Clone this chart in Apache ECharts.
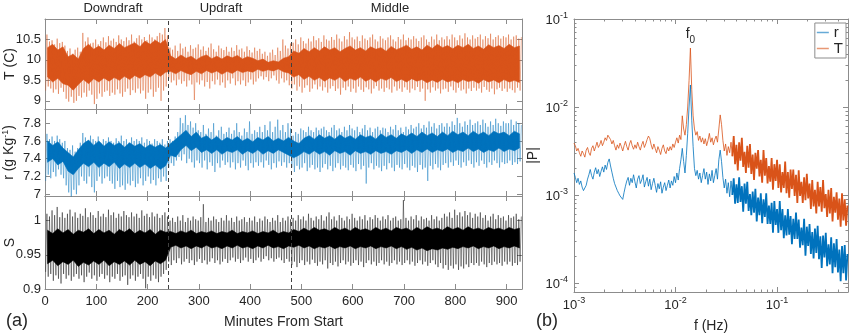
<!DOCTYPE html>
<html>
<head>
<meta charset="utf-8">
<script src="https://cdn.jsdelivr.net/npm/echarts@6/dist/echarts.min.js"></script>
<style>
  html, body { margin: 0; padding: 0; background: #ffffff; }
  #chart { width: 850px; height: 335px; }
</style>
</head>
<body>
<div id="chart"></div>
<script>
// ---------------------------------------------------------------
// Time series: envelope of each 5-minute bin (low / high) and the
// dense core of each 10-minute bin, for T, r and S.
// ---------------------------------------------------------------
const binMinutes = 5;
const coreMinutes = 10;
const sectionNames = ['Downdraft', 'Updraft', 'Middle'];
const sectionBounds = [240, 480];
const minuteTicks = [0, 100, 200, 300, 400, 500, 600, 700, 800, 900];
const tempTicks = [9, 9.5, 10, 10.5];
const mixTicks = [7, 7.2, 7.4, 7.6, 7.8];
const satTicks = [0.9, 0.95, 1];

// Temperature T (C)
const tempHi = [
  10.62, 10.45, 10.48, 10.38, 10.52, 10.41, 10.44, 10.35, 10.22, 10.28, 10.15, 10.25,
  10.30, 10.20, 10.66, 10.45, 10.55, 10.40, 10.42, 10.50, 10.38, 10.46, 10.55, 10.43,
  10.58, 10.47, 10.52, 10.44, 10.60, 10.50, 10.46, 10.55, 10.48, 10.62, 10.45, 10.53,
  10.60, 10.50, 10.56, 10.48, 10.62, 10.55, 10.50, 10.58, 10.66, 10.62, 10.78, 10.60,
  10.30, 10.25, 10.35, 10.22, 10.40, 10.28, 10.32, 10.20, 10.36, 10.27, 10.30, 10.38,
  10.25, 10.33, 10.22, 10.30, 10.40, 10.26, 10.20, 10.35, 10.28, 10.24, 10.32, 10.20,
  10.30, 10.22, 10.36, 10.25, 10.28, 10.20, 10.33, 10.24, 10.18, 10.30, 10.22, 10.27,
  10.15, 10.20, 10.10, 10.18, 10.25, 10.12, 10.30, 10.22, 10.50, 10.35, 10.28, 10.40,
  10.42, 10.50, 10.38, 10.55, 10.46, 10.40, 10.52, 10.45, 10.58, 10.48, 10.53, 10.44,
  10.60, 10.50, 10.47, 10.56, 10.49, 10.62, 10.52, 10.45, 10.58, 10.50, 10.68, 10.55,
  10.50, 10.57, 10.46, 10.60, 10.52, 10.48, 10.55, 10.62, 10.50, 10.45, 10.58, 10.52,
  10.48, 10.55, 10.60, 10.50, 10.45, 10.56, 10.50, 10.62, 10.48, 10.54, 10.50, 10.58,
  10.52, 10.46, 10.55, 10.60, 10.50, 10.44, 10.57, 10.50, 10.62, 10.48, 10.55, 10.50,
  10.58, 10.50, 10.62, 10.55, 10.48, 10.60, 10.52, 10.65, 10.55, 10.50, 10.60, 10.52,
  10.56, 10.62, 10.50, 10.58, 10.53, 10.64, 10.50, 10.56, 10.60, 10.52, 10.58, 10.55,
  10.62, 10.50, 10.57, 10.60, 10.52, 10.56
];
const tempLo = [
  9.25, 9.35, 9.30, 9.20, 9.28, 9.17, 9.32, 9.22, 9.05, 8.98, 9.10, 8.95,
  9.00, 9.12, 9.08, 9.20, 9.10, 9.25, 9.15, 8.92, 9.05, 9.18, 9.10, 9.22,
  9.25, 9.12, 9.20, 9.15, 9.28, 9.18, 9.10, 9.22, 9.30, 9.14, 9.26, 9.20,
  9.30, 9.18, 9.25, 9.05, 9.20, 9.28, 9.10, 9.22, 9.32, 9.00, 9.25, 9.35,
  9.55, 9.45, 9.50, 9.38, 9.52, 9.42, 9.48, 9.35, 9.50, 9.40, 9.02, 9.45,
  9.40, 9.50, 9.35, 9.46, 9.30, 9.48, 9.40, 9.52, 9.38, 9.45, 9.32, 9.50,
  9.42, 9.55, 9.38, 9.48, 9.40, 9.50, 9.36, 9.45, 9.52, 9.40, 9.47, 9.55,
  9.60, 9.52, 9.58, 9.48, 9.55, 9.62, 9.50, 9.42, 9.55, 9.45, 9.50, 9.38,
  9.30, 9.40, 9.25, 9.35, 9.20, 9.32, 9.38, 9.22, 9.30, 9.40, 9.28, 9.35,
  9.25, 9.33, 9.20, 9.30, 9.36, 9.24, 9.30, 9.15, 9.32, 9.26, 9.35, 9.22,
  9.30, 9.20, 9.35, 9.27, 9.22, 9.33, 9.28, 9.18, 9.30, 9.36, 9.25, 9.30,
  9.22, 9.32, 9.28, 9.20, 9.35, 9.25, 9.30, 9.22, 9.33, 9.27, 9.20, 9.30,
  9.26, 9.34, 9.22, 9.30, 9.00, 9.28, 9.20, 9.33, 9.25, 9.30, 9.18, 9.28,
  9.30, 9.22, 9.35, 9.26, 9.20, 9.32, 9.25, 9.28, 9.18, 9.30, 9.24, 9.32,
  9.25, 9.30, 9.20, 9.34, 9.27, 9.22, 9.30, 9.16, 9.28, 9.32, 9.24, 9.30,
  9.22, 9.30, 9.26, 9.20, 9.32, 9.25
];
const tempCoreHi = [
  10.30, 10.38, 10.24, 10.32, 10.08, 10.14, 10.02, 10.28, 10.38, 10.26, 10.34, 10.24,
  10.36, 10.28, 10.40, 10.30, 10.36, 10.42, 10.32, 10.46, 10.38, 10.48, 10.40, 10.50,
  10.10, 10.02, 10.12, 10.04, 10.09, 10.00, 10.08, 10.12, 10.03, 10.09, 10.02, 10.10,
  10.05, 10.11, 10.02, 10.08, 10.04, 9.98, 10.02, 9.94, 9.98, 9.95, 10.04, 10.08,
  10.22, 10.16, 10.28, 10.20, 10.30, 10.22, 10.32, 10.24, 10.30, 10.20, 10.28, 10.34, 10.24, 10.30, 10.22,
  10.32, 10.26, 10.30, 10.21, 10.33, 10.25, 10.30, 10.36, 10.26, 10.32, 10.24, 10.36, 10.28, 10.38, 10.30,
  10.35, 10.27, 10.36, 10.30, 10.38, 10.28, 10.34, 10.26, 10.37, 10.30, 10.35, 10.28, 10.38, 10.30, 10.34
];
const tempCoreLo = [
  9.58, 9.46, 9.55, 9.42, 9.38, 9.26, 9.40, 9.52, 9.42, 9.54, 9.46, 9.56,
  9.48, 9.57, 9.50, 9.60, 9.52, 9.62, 9.55, 9.64, 9.58, 9.68, 9.60, 9.70,
  9.72, 9.66, 9.74, 9.68, 9.64, 9.72, 9.66, 9.74, 9.68, 9.73, 9.65, 9.72,
  9.67, 9.75, 9.69, 9.73, 9.70, 9.77, 9.72, 9.76, 9.73, 9.78, 9.71, 9.68,
  9.58, 9.64, 9.52, 9.60, 9.50, 9.57, 9.48, 9.56, 9.50, 9.58, 9.47, 9.55, 9.50, 9.58, 9.48,
  9.54, 9.46, 9.55, 9.50, 9.57, 9.47, 9.53, 9.46, 9.54, 9.48, 9.52, 9.44, 9.51, 9.45, 9.53,
  9.46, 9.50, 9.44, 9.52, 9.47, 9.50, 9.43, 9.52, 9.46, 9.51, 9.44, 9.52, 9.46, 9.50, 9.45
];

// Mixing ratio r (g/kg)
const mixHi = [
  7.68, 7.62, 7.65, 7.60, 7.66, 7.62, 7.58, 7.60, 7.52, 7.50, 7.55, 7.48,
  7.52, 7.58, 7.69, 7.64, 7.60, 7.66, 7.62, 7.60, 7.65, 7.58, 7.62, 7.60,
  7.64, 7.60, 7.58, 7.63, 7.60, 7.66, 7.60, 7.62, 7.58, 7.64, 7.60, 7.62,
  7.60, 7.64, 7.58, 7.62, 7.60, 7.57, 7.62, 7.60, 7.58, 7.62, 7.56, 7.60,
  7.62, 7.60, 7.65, 7.70, 7.86, 7.80, 7.89, 7.78, 7.82, 7.75, 7.80, 7.72,
  7.70, 7.78, 7.68, 7.74, 7.70, 7.80, 7.66, 7.72, 7.76, 7.68, 7.70, 7.75,
  7.68, 7.72, 7.80, 7.70, 7.66, 7.74, 7.70, 7.82, 7.68, 7.72, 7.70, 7.76,
  7.70, 7.78, 7.72, 7.82, 7.70, 7.76, 7.84, 7.72, 7.78, 7.70, 7.80, 7.74,
  7.66, 7.70, 7.68, 7.74, 7.72, 7.70, 7.76, 7.72, 7.70, 7.75, 7.72, 7.74,
  7.76, 7.72, 7.70, 7.75, 7.78, 7.72, 7.74, 7.70, 7.76, 7.72, 7.78, 7.74,
  7.72, 7.76, 7.70, 7.74, 7.78, 7.72, 7.75, 7.70, 7.74, 7.76, 7.72, 7.75,
  7.74, 7.70, 7.76, 7.73, 7.78, 7.72, 7.75, 7.70, 7.76, 7.73, 7.78, 7.74,
  7.76, 7.80, 7.74, 7.78, 7.75, 7.82, 7.76, 7.80, 7.74, 7.78, 7.80, 7.76,
  7.80, 7.76, 7.82, 7.78, 7.86, 7.80, 7.76, 7.82, 7.78, 7.84, 7.78, 7.80,
  7.82, 7.78, 7.84, 7.80, 7.76, 7.82, 7.78, 7.85, 7.80, 7.77, 7.82, 7.80,
  7.80, 7.84, 7.78, 7.82, 7.80, 7.78
];
const mixLo = [
  7.15, 7.22, 7.18, 7.25, 7.20, 7.28, 7.22, 7.18, 7.10, 7.02, 6.96, 7.05,
  7.00, 7.10, 7.20, 7.15, 7.12, 7.20, 7.08, 7.02, 7.15, 7.20, 7.12, 7.18,
  7.20, 7.15, 7.12, 7.06, 7.15, 7.08, 7.10, 7.05, 7.12, 7.10, 7.15, 7.08,
  7.12, 7.18, 7.10, 7.15, 7.20, 7.12, 7.16, 7.10, 7.18, 7.14, 7.20, 7.15,
  7.30, 7.35, 7.32, 7.38, 7.42, 7.38, 7.45, 7.35, 7.40, 7.36, 7.30, 7.38,
  7.35, 7.30, 7.38, 7.28, 7.36, 7.32, 7.25, 7.35, 7.30, 7.38, 7.33, 7.36,
  7.30, 7.36, 7.28, 7.35, 7.30, 7.38, 7.32, 7.27, 7.35, 7.30, 7.36, 7.32,
  7.36, 7.30, 7.38, 7.33, 7.28, 7.35, 7.30, 7.37, 7.32, 7.36, 7.30, 7.35,
  7.30, 7.25, 7.32, 7.28, 7.30, 7.35, 7.26, 7.30, 7.33, 7.28, 7.30, 7.25,
  7.30, 7.34, 7.28, 7.32, 7.26, 7.30, 7.35, 7.28, 7.32, 7.30, 7.27, 7.33,
  7.30, 7.26, 7.34, 7.28, 7.32, 7.12, 7.30, 7.35, 7.28, 7.32, 7.30, 7.26,
  7.32, 7.28, 7.35, 7.30, 7.26, 7.33, 7.30, 7.28, 7.34, 7.30, 7.27, 7.32,
  7.30, 7.25, 7.33, 7.28, 7.30, 7.15, 7.32, 7.28, 7.34, 7.30, 7.27, 7.33,
  7.35, 7.30, 7.36, 7.32, 7.38, 7.33, 7.30, 7.36, 7.32, 7.38, 7.34, 7.30,
  7.36, 7.32, 7.38, 7.34, 7.30, 7.36, 7.33, 7.38, 7.35, 7.30, 7.36, 7.34,
  7.35, 7.38, 7.33, 7.36, 7.34, 7.37
];
const mixCoreHi = [
  7.60, 7.55, 7.59, 7.52, 7.47, 7.42, 7.50, 7.57, 7.61, 7.55, 7.60, 7.54,
  7.59, 7.55, 7.58, 7.53, 7.58, 7.54, 7.57, 7.52, 7.56, 7.53, 7.56, 7.52,
  7.57, 7.62, 7.67, 7.72, 7.65, 7.70, 7.63, 7.66, 7.61, 7.65, 7.60, 7.64,
  7.61, 7.65, 7.60, 7.63, 7.59, 7.64, 7.61, 7.65, 7.60, 7.63, 7.60, 7.64,
  7.60, 7.57, 7.63, 7.66, 7.62, 7.67, 7.63, 7.66, 7.62, 7.67, 7.63, 7.66, 7.62, 7.67, 7.64,
  7.66, 7.62, 7.68, 7.64, 7.67, 7.63, 7.68, 7.65, 7.69, 7.65, 7.70, 7.66, 7.69, 7.65, 7.70,
  7.66, 7.71, 7.67, 7.70, 7.66, 7.71, 7.67, 7.70, 7.66, 7.71, 7.68, 7.70, 7.66, 7.71, 7.68
];
const mixCoreLo = [
  7.36, 7.40, 7.33, 7.37, 7.26, 7.22, 7.29, 7.35, 7.31, 7.36, 7.30, 7.35,
  7.31, 7.36, 7.29, 7.34, 7.30, 7.35, 7.30, 7.34, 7.29, 7.33, 7.28, 7.32,
  7.44, 7.42, 7.50, 7.55, 7.49, 7.53, 7.47, 7.50, 7.46, 7.50, 7.45, 7.49,
  7.47, 7.50, 7.45, 7.49, 7.46, 7.50, 7.45, 7.49, 7.46, 7.50, 7.47, 7.44,
  7.41, 7.44, 7.48, 7.45, 7.49, 7.45, 7.48, 7.44, 7.49, 7.46, 7.48, 7.44, 7.49, 7.46, 7.48,
  7.45, 7.49, 7.46, 7.48, 7.45, 7.49, 7.47, 7.50, 7.46, 7.50, 7.47, 7.51, 7.47, 7.50, 7.48,
  7.51, 7.47, 7.50, 7.48, 7.52, 7.48, 7.51, 7.47, 7.50, 7.48, 7.52, 7.48, 7.51, 7.49, 7.52
];

// Saturation ratio S
const satHi = [
  1.010, 1.006, 1.015, 1.008, 1.020, 1.005, 1.012, 1.004, 1.010, 1.016, 1.006, 1.012,
  1.004, 1.010, 1.007, 1.018, 1.005, 1.012, 1.008, 1.004, 1.014, 1.006, 1.010, 1.005,
  1.016, 1.008, 1.012, 1.004, 1.010, 1.006, 1.014, 1.008, 1.005, 1.012, 1.006, 1.010,
  1.004, 1.015, 1.007, 1.010, 1.005, 1.012, 1.006, 1.010, 1.004, 1.008, 1.012, 1.006,
  1.000, 1.004, 0.998, 1.006, 1.000, 1.008, 0.998, 1.004, 1.000, 1.006, 1.002, 1.000,
  1.005, 1.024, 0.998, 1.004, 1.000, 1.006, 1.002, 0.998, 1.004, 1.000, 1.008, 1.000,
  1.004, 0.998, 1.006, 1.000, 1.002, 1.005, 0.998, 1.004, 1.000, 1.006, 0.998, 1.003,
  1.000, 1.006, 1.002, 0.998, 1.004, 1.000, 1.008, 0.998, 1.004, 1.000, 1.006, 1.002,
  1.004, 1.000, 1.008, 1.002, 1.006, 1.000, 1.010, 1.004, 1.000, 1.006, 1.002, 1.008,
  1.000, 1.006, 1.012, 1.002, 1.006, 1.000, 1.008, 1.004, 1.000, 1.006, 1.002, 1.010,
  1.004, 1.000, 1.006, 1.002, 1.008, 1.000, 1.005, 1.002, 1.008, 1.004, 1.000, 1.006,
  1.002, 1.008, 1.000, 1.004, 1.006, 1.000, 1.002, 1.030, 1.004, 1.000, 1.006, 1.002,
  1.008, 1.000, 1.006, 1.002, 1.004, 1.000, 1.008, 1.002, 1.006, 1.000, 1.004, 1.010,
  1.006, 1.012, 1.004, 1.016, 1.008, 1.012, 1.006, 1.014, 1.008, 1.012, 1.004, 1.010,
  1.006, 1.012, 1.004, 1.008, 1.000, 1.006, 1.010, 1.002, 1.008, 1.004, 1.006, 1.000,
  1.008, 1.004, 1.006, 1.010, 1.002, 1.006
];
const satLo = [
  0.925, 0.918, 0.922, 0.912, 0.920, 0.915, 0.908, 0.922, 0.915, 0.920, 0.912, 0.918,
  0.922, 0.915, 0.920, 0.910, 0.918, 0.924, 0.915, 0.920, 0.912, 0.918, 0.922, 0.915,
  0.920, 0.910, 0.918, 0.915, 0.922, 0.912, 0.918, 0.920, 0.906, 0.915, 0.920, 0.912,
  0.918, 0.922, 0.915, 0.901, 0.918, 0.912, 0.920, 0.915, 0.910, 0.918, 0.922, 0.928,
  0.940, 0.935, 0.942, 0.938, 0.945, 0.936, 0.940, 0.944, 0.938, 0.942, 0.935, 0.940,
  0.944, 0.938, 0.942, 0.936, 0.940, 0.945, 0.938, 0.942, 0.936, 0.940, 0.944, 0.938,
  0.942, 0.946, 0.940, 0.944, 0.938, 0.942, 0.946, 0.940, 0.944, 0.938, 0.942, 0.946,
  0.940, 0.944, 0.948, 0.942, 0.945, 0.940, 0.944, 0.946, 0.942, 0.938, 0.944, 0.940,
  0.935, 0.940, 0.932, 0.938, 0.942, 0.935, 0.940, 0.936, 0.943, 0.938, 0.934, 0.940,
  0.936, 0.942, 0.930, 0.938, 0.935, 0.940, 0.933, 0.938, 0.942, 0.936, 0.940, 0.934,
  0.938, 0.942, 0.935, 0.940, 0.932, 0.938, 0.942, 0.936, 0.940, 0.934, 0.938, 0.942,
  0.936, 0.940, 0.934, 0.938, 0.942, 0.936, 0.940, 0.935, 0.938, 0.942, 0.936, 0.940,
  0.934, 0.938, 0.942, 0.936, 0.940, 0.934, 0.938, 0.942, 0.936, 0.932, 0.938, 0.930,
  0.935, 0.928, 0.934, 0.930, 0.936, 0.928, 0.933, 0.930, 0.936, 0.932, 0.938, 0.935,
  0.938, 0.934, 0.940, 0.936, 0.932, 0.938, 0.935, 0.940, 0.936, 0.938, 0.934, 0.940,
  0.936, 0.940, 0.934, 0.938, 0.935, 0.940
];
const satCoreHi = [
  0.986, 0.981, 0.988, 0.982, 0.987, 0.980, 0.986, 0.983, 0.988, 0.981, 0.987, 0.982,
  0.986, 0.980, 0.987, 0.983, 0.988, 0.981, 0.986, 0.982, 0.987, 0.980, 0.986, 0.983,
  0.984, 0.981, 0.985, 0.982, 0.986, 0.981, 0.984, 0.982, 0.985, 0.981, 0.984, 0.982,
  0.986, 0.981, 0.984, 0.982, 0.985, 0.981, 0.984, 0.982, 0.986, 0.981, 0.984, 0.982,
  0.987, 0.984, 0.989, 0.985, 0.990, 0.986, 0.988, 0.985, 0.990, 0.986, 0.989, 0.985, 0.990, 0.986, 0.988,
  0.985, 0.990, 0.986, 0.989, 0.985, 0.990, 0.987, 0.989, 0.985, 0.990, 0.986, 0.991, 0.987, 0.989, 0.986,
  0.991, 0.987, 0.990, 0.986, 0.991, 0.987, 0.989, 0.986, 0.990, 0.987, 0.989, 0.986, 0.990, 0.987, 0.989
];
const satCoreLo = [
  0.937, 0.942, 0.934, 0.940, 0.936, 0.942, 0.933, 0.939, 0.935, 0.941, 0.936, 0.942,
  0.934, 0.940, 0.936, 0.941, 0.935, 0.942, 0.936, 0.940, 0.934, 0.941, 0.937, 0.942,
  0.961, 0.964, 0.960, 0.963, 0.959, 0.963, 0.960, 0.964, 0.960, 0.962, 0.959, 0.963,
  0.960, 0.964, 0.960, 0.962, 0.959, 0.963, 0.960, 0.964, 0.960, 0.962, 0.959, 0.963,
  0.961, 0.964, 0.960, 0.963, 0.959, 0.962, 0.960, 0.963, 0.959, 0.962, 0.960, 0.963, 0.959, 0.962, 0.960,
  0.963, 0.959, 0.962, 0.960, 0.963, 0.959, 0.962, 0.958, 0.961, 0.957, 0.960, 0.956, 0.959, 0.957, 0.960,
  0.958, 0.961, 0.959, 0.962, 0.960, 0.963, 0.959, 0.962, 0.960, 0.963, 0.959, 0.962, 0.960, 0.963, 0.960
];

// ---------------------------------------------------------------
// Amplitude spectra |P| (stored as log10|P|), analysis bins spaced
// 75 per decade starting at 1e-3 Hz.
// ---------------------------------------------------------------
const binsPerDecade = 75;
const firstFreq = 1e-3;
const denseFrom = 117;   // above ~0.036 Hz the trace is drawn as a dense band
const freqTicks = [1e-3, 1e-2, 1e-1];
const ampTicks = [1e-4, 1e-3, 1e-2, 1e-1];

const logAmpT = [
  -2.41, -2.44, -2.50, -2.47, -2.52, -2.56, -2.50, -2.53, -2.57, -2.49,
  -2.46, -2.52, -2.55, -2.47, -2.44, -2.50, -2.45, -2.40, -2.46, -2.43,
  -2.38, -2.44, -2.40, -2.35, -2.38, -2.32, -2.30, -2.37, -2.42, -2.38,
  -2.44, -2.49, -2.43, -2.47, -2.41, -2.45, -2.50, -2.44, -2.39, -2.45,
  -2.49, -2.42, -2.38, -2.44, -2.48, -2.43, -2.47, -2.40, -2.45, -2.49,
  -2.43, -2.39, -2.46, -2.42, -2.37, -2.33, -2.36, -2.43, -2.48, -2.42,
  -2.47, -2.52, -2.45, -2.49, -2.54, -2.47, -2.43, -2.50, -2.53, -2.46,
  -2.50, -2.45, -2.49, -2.42, -2.46, -2.40, -2.35, -2.41, -2.32, -2.37,
  -2.10, -2.25, -2.32, -2.20, -2.00, -1.70, -1.33, -1.80, -2.10, -2.25,
  -2.32, -2.28, -2.38, -2.33, -2.40, -2.35, -2.42, -2.36, -2.44, -2.38,
  -2.30, -2.40, -2.35, -2.43, -2.37, -2.33, -2.40, -2.25, -2.09, -2.20,
  -2.38, -2.50, -2.42, -2.55, -2.45, -2.52, -2.40, -2.56,
  -2.33, -2.65, -2.43, -2.72, -2.40, -2.61, -2.35, -2.68, -2.51, -2.75,
  -2.44, -2.69, -2.42, -2.76, -2.54, -2.83, -2.52, -2.70, -2.49, -2.79,
  -2.60, -2.86, -2.49, -2.78, -2.58, -2.87, -2.67, -2.85, -2.58, -2.94,
  -2.65, -2.84, -2.60, -2.92, -2.65, -2.97, -2.74, -2.92, -2.62, -2.98,
  -2.74, -3.03, -2.71, -2.93, -2.71, -3.01, -2.77, -3.09, -2.72, -3.01,
  -2.85, -3.09, -2.80, -3.06, -2.76, -3.04, -2.87, -3.16, -2.83, -3.13,
  -2.94, -3.21, -2.85, -3.13, -2.91, -3.19, -2.83, -3.15, -2.99, -3.25,
  -2.94, -3.21, -2.92, -3.30, -3.02, -3.20, -2.97, -3.28, -3.04, -3.36,
  -2.98, -3.29, -3.05, -3.35, -3.12
];
const logAmpR = [
  -2.75, -2.80, -2.86, -2.81, -2.88, -2.84, -2.91, -2.95, -2.97, -2.89,
  -2.82, -2.77, -2.71, -2.78, -2.82, -2.74, -2.69, -2.76, -2.71, -2.79,
  -2.73, -2.68, -2.74, -2.66, -2.71, -2.63, -2.59, -2.67, -2.74, -2.81,
  -2.87, -2.91, -2.95, -2.98, -3.01, -3.03, -3.05, -2.97, -2.90, -2.84,
  -2.80, -2.89, -2.81, -2.86, -2.77, -2.85, -2.92, -2.82, -2.78, -2.87,
  -2.83, -2.77, -2.91, -2.85, -2.80, -2.90, -2.82, -2.94, -2.87, -2.81,
  -2.89, -2.97, -2.87, -2.93, -2.85, -2.98, -2.91, -2.86, -2.95, -2.89,
  -2.83, -2.92, -2.84, -2.89, -2.79, -2.86, -2.75, -2.83, -2.70, -2.60,
  -2.47, -2.62, -2.75, -2.55, -2.30, -2.00, -1.75, -2.15, -2.45, -2.70,
  -2.78, -2.72, -2.82, -2.75, -2.86, -2.78, -2.70, -2.82, -2.74, -2.88,
  -2.76, -2.84, -2.72, -2.86, -2.78, -2.70, -2.82, -2.60, -2.49, -2.62,
  -2.80, -2.92, -2.82, -2.98, -2.86, -3.02, -2.84, -3.00,
  -2.81, -3.10, -2.88, -3.09, -2.80, -3.08, -2.90, -3.19, -2.87, -3.10,
  -2.85, -3.18, -2.99, -3.23, -2.96, -3.20, -2.93, -3.30, -3.03, -3.23,
  -2.98, -3.32, -3.05, -3.25, -2.98, -3.33, -3.12, -3.33, -3.09, -3.43,
  -3.07, -3.34, -3.16, -3.43, -3.07, -3.40, -3.16, -3.49, -3.23, -3.46,
  -3.16, -3.45, -3.24, -3.56, -3.27, -3.50, -3.20, -3.50, -3.28, -3.60,
  -3.37, -3.57, -3.27, -3.69, -3.36, -3.58, -3.33, -3.67, -3.42, -3.72,
  -3.38, -3.66, -3.35, -3.73, -3.47, -3.83, -3.46, -3.71, -3.43, -3.81,
  -3.56, -3.79, -3.48, -3.89, -3.55, -3.82, -3.50, -3.88, -3.62, -3.98,
  -3.58, -3.89, -3.57, -3.97, -3.67
];

// ---------------------------------------------------------------
const AXIS = '#8c8c8c';
const TEXT = '#262626';
const FONT = '"Liberation Sans", Arial, Helvetica, sans-serif';
const ORANGE = '#D95319';
const BLUE = '#0072BD';

// low/high of each 5-minute bin become a zig-zag trace
function binTrace(lo, hi, step) {
  const pts = [];
  const n = Math.min(lo.length, hi.length);
  for (let i = 0; i < n; i++) {
    pts.push([step * i + step * 0.25, lo[i]]);
    pts.push([step * i + step * 0.75, hi[i]]);
  }
  return pts;
}
// bin centres for the core band
function binCentres(n, step) {
  const xs = [];
  for (let i = 0; i < n; i++) xs.push(step * i + step / 2);
  return xs;
}

const panels = [
  { key: 'T', lo: tempLo, hi: tempHi, cLo: tempCoreLo, cHi: tempCoreHi, color: ORANGE,
    min: 8.8, max: 11.0, ticks: tempTicks, name: 'T (C)' },
  { key: 'r', lo: mixLo, hi: mixHi, cLo: mixCoreLo, cHi: mixCoreHi, color: BLUE,
    min: 6.98, max: 7.96, ticks: mixTicks, name: '{n|r (g Kg}{s|-1}{n|)}' },
  { key: 'S', lo: satLo, hi: satHi, cLo: satCoreLo, cHi: satCoreHi, color: '#000000',
    min: 0.9, max: 1.036, ticks: satTicks, name: 'S' }
];

const gridBase = { outerBoundsMode: 'none', containLabel: false };
const grid = [
  Object.assign({ left: 45, top: 19, width: 477, height: 90 }, gridBase),
  Object.assign({ left: 45, top: 109, width: 477, height: 87 }, gridBase),
  Object.assign({ left: 45, top: 196, width: 477, height: 93 }, gridBase),
  Object.assign({ left: 574, top: 19, width: 274, height: 273 }, gridBase)
];

const xAxis = [];
const yAxis = [];
const series = [];

panels.forEach((p, g) => {
  const last = g === panels.length - 1;
  ['bottom', 'top'].forEach((pos) => {
    xAxis.push({
      type: 'value', gridIndex: g, position: pos, min: 0, max: 930,
      axisLine: { show: true, onZero: false, lineStyle: { color: AXIS, width: 1 } },
      axisTick: { show: true, inside: true, length: 5, customValues: minuteTicks, lineStyle: { color: AXIS } },
      axisLabel: { show: last && pos === 'bottom', customValues: minuteTicks, color: TEXT, fontSize: 13, margin: 6, fontFamily: FONT },
      splitLine: { show: false },
      name: (last && pos === 'bottom') ? 'Minutes From Start' : '',
      nameLocation: 'middle', nameGap: 26, nameMoveOverlap: false,
      nameTextStyle: { fontSize: 14, color: TEXT, fontFamily: FONT }
    });
  });
  ['left', 'right'].forEach((pos) => {
    yAxis.push({
      type: 'value', gridIndex: g, position: pos, min: p.min, max: p.max,
      axisLine: { show: true, onZero: false, lineStyle: { color: AXIS, width: 1 } },
      axisTick: { show: true, inside: true, length: 5, customValues: p.ticks, lineStyle: { color: AXIS } },
      axisLabel: { show: pos === 'left', customValues: p.ticks, color: TEXT, fontSize: 13, margin: 4, fontFamily: FONT },
      splitLine: { show: false },
      name: pos === 'left' ? p.name : '',
      nameLocation: 'middle', nameRotate: 90, nameGap: 28, nameMoveOverlap: false,
      nameTextStyle: {
        fontSize: 14, color: TEXT, fontFamily: FONT,
        rich: {
          n: { fontSize: 14, color: TEXT, fontFamily: FONT, lineHeight: 16 },
          s: { fontSize: 9, color: TEXT, fontFamily: FONT, lineHeight: 9, verticalAlign: 'top' }
        }
      }
    });
  });

  // light spread of every 5-minute bin
  series.push({
    type: 'line', name: p.key + ' spread', xAxisIndex: 2 * g, yAxisIndex: 2 * g,
    data: binTrace(p.lo, p.hi, binMinutes),
    symbol: 'none', silent: true, animation: false,
    lineStyle: { color: p.color, width: 0.8, opacity: 0.55 },
    itemStyle: { color: p.color },
    markLine: {
      silent: true, symbol: ['none', 'none'], animation: false,
      label: { show: false },
      lineStyle: { color: '#404040', type: [4, 3], width: 1 },
      data: sectionBounds.map((b) => ({ xAxis: b }))
    },
    z: 2
  });
  // dense core: band between core low and core high of each 10-minute bin
  const xs = binCentres(Math.min(p.cLo.length, p.cHi.length), coreMinutes);
  series.push({
    type: 'custom', name: p.key + ' core', coordinateSystem: 'cartesian2d',
    xAxisIndex: 2 * g, yAxisIndex: 2 * g,
    silent: true, animation: false, z: 1,
    data: [[xs[0], p.cLo[0]]],
    renderItem: function (params, api) {
      const upper = xs.map((x, i) => api.coord([x, p.cHi[i]]));
      const lower = xs.map((x, i) => api.coord([x, p.cLo[i]])).reverse();
      return {
        type: 'polygon',
        shape: { points: upper.concat(lower) },
        style: { fill: p.color, stroke: p.color, lineWidth: 0.6 }
      };
    }
  });
});

// spectrum axes (grid 3): major axes, then minor tick axes
const freqMinor = [];
[1e-3, 1e-2, 1e-1].forEach((d) => { for (let m = 2; m <= 9; m++) { if (m * d <= 0.5) freqMinor.push(m * d); } });
const ampMinor = [9e-5];
[1e-4, 1e-3, 1e-2].forEach((d) => { for (let m = 2; m <= 9; m++) ampMinor.push(m * d); });

function logLabel(v) {
  return '{b|10}{e|' + Math.round(Math.log10(v)) + '}';
}
const logRich = {
  b: { fontSize: 13, color: TEXT, fontFamily: FONT, lineHeight: 16, verticalAlign: 'bottom' },
  e: { fontSize: 9, color: TEXT, fontFamily: FONT, lineHeight: 9, verticalAlign: 'top' }
};

const fMin = 1e-3, fMax = 0.5, pMin = 7.9e-5, pMax = 0.1;
['bottom', 'top'].forEach((pos) => {
  xAxis.push({
    type: 'log', logBase: 10, gridIndex: 3, position: pos, min: fMin, max: fMax,
    axisLine: { show: true, onZero: false, lineStyle: { color: AXIS, width: 1 } },
    axisTick: { show: true, inside: true, length: 5, customValues: freqTicks, lineStyle: { color: AXIS } },
    axisLabel: { show: pos === 'bottom', customValues: freqTicks, formatter: logLabel, rich: logRich, margin: 4 },
    splitLine: { show: false },
    name: pos === 'bottom' ? 'f (Hz)' : '', nameLocation: 'middle', nameGap: 27, nameMoveOverlap: false,
    nameTextStyle: { fontSize: 14, color: TEXT, fontFamily: FONT }
  });
});
['left', 'right'].forEach((pos) => {
  yAxis.push({
    type: 'log', logBase: 10, gridIndex: 3, position: pos, min: pMin, max: pMax,
    axisLine: { show: true, onZero: false, lineStyle: { color: AXIS, width: 1 } },
    axisTick: { show: true, inside: true, length: 5, customValues: ampTicks, lineStyle: { color: AXIS } },
    axisLabel: { show: pos === 'left', customValues: ampTicks, formatter: logLabel, rich: logRich, margin: 6 },
    splitLine: { show: false },
    name: pos === 'left' ? '|P|' : '', nameLocation: 'middle', nameRotate: 90, nameGap: 34, nameMoveOverlap: false,
    nameTextStyle: { fontSize: 14, color: TEXT, fontFamily: FONT }
  });
});
['bottom', 'top'].forEach((pos) => {
  xAxis.push({
    type: 'log', logBase: 10, gridIndex: 3, position: pos, min: fMin, max: fMax,
    axisLine: { show: false },
    axisTick: { show: true, inside: true, length: 2.5, customValues: freqMinor, lineStyle: { color: AXIS } },
    axisLabel: { show: false }, splitLine: { show: false }
  });
});
['left', 'right'].forEach((pos) => {
  yAxis.push({
    type: 'log', logBase: 10, gridIndex: 3, position: pos, min: pMin, max: pMax,
    axisLine: { show: false },
    axisTick: { show: true, inside: true, length: 2.5, customValues: ampMinor, lineStyle: { color: AXIS } },
    axisLabel: { show: false }, splitLine: { show: false }
  });
});

const freq = logAmpT.map((_, k) => firstFreq * Math.pow(10, k / binsPerDecade));
const ampT = logAmpT.map((v) => Math.pow(10, v));
const ampR = logAmpR.map((v) => Math.pow(10, v));
const peakK = logAmpT.indexOf(Math.max.apply(null, logAmpT));

function specSeries(name, amp, color, part) {
  const pts = freq.map((f, k) => [f, amp[k]]);
  const data = part === 'low' ? pts.slice(0, denseFrom + 1) : pts.slice(denseFrom);
  return {
    type: 'line', name: name, xAxisIndex: 6, yAxisIndex: 6, data: data,
    symbol: 'none', animation: false, silent: true,
    lineStyle: { color: color, width: part === 'low' ? 0.8 : 1.8 },
    itemStyle: { color: color }
  };
}
const tLow = specSeries('T', ampT, ORANGE, 'low');
tLow.markPoint = {
  silent: true, animation: false, symbol: 'circle', symbolSize: 0,
  data: [{ coord: [freq[peakK], ampT[peakK]] }],
  label: {
    show: true, position: 'top', distance: 3,
    formatter: '{f|f}{s|0}',
    rich: {
      f: { fontSize: 14, color: TEXT, fontFamily: FONT, lineHeight: 18, verticalAlign: 'top' },
      s: { fontSize: 10, color: TEXT, fontFamily: FONT, lineHeight: 10, verticalAlign: 'bottom' }
    }
  }
};
series.push(tLow, specSeries('T', ampT, ORANGE, 'high'),
            specSeries('r', ampR, BLUE, 'low'), specSeries('r', ampR, BLUE, 'high'));

const titleX = [113, 221, 390];
const option = {
  animation: false,
  backgroundColor: '#ffffff',
  textStyle: { fontFamily: FONT },
  grid: grid,
  xAxis: xAxis,
  yAxis: yAxis,
  series: series,
  legend: {
    data: ['r', 'T'], orient: 'vertical', right: 4, top: 23,
    padding: [2, 3, 2, 2], itemGap: 1, itemWidth: 12, itemHeight: 1.5,
    icon: 'rect',
    borderColor: AXIS, borderWidth: 1, borderRadius: 0, backgroundColor: '#ffffff',
    selectedMode: false,
    itemStyle: { opacity: 0.6 },
    textStyle: { fontSize: 15, color: TEXT, fontFamily: FONT }
  },
  graphic: sectionNames.map((s, i) => ({
    type: 'text', x: titleX[i], y: 8,
    style: { text: s, fontSize: 13, fontFamily: FONT, fill: TEXT, align: 'center', verticalAlign: 'middle' }
  })).concat([
    { type: 'text', x: 17, y: 321, style: { text: '(a)', fontSize: 18, fontFamily: FONT, fill: TEXT, align: 'center', verticalAlign: 'middle' } },
    { type: 'text', x: 547, y: 321, style: { text: '(b)', fontSize: 18, fontFamily: FONT, fill: TEXT, align: 'center', verticalAlign: 'middle' } }
  ])
};

const chart = echarts.init(document.getElementById('chart'), null, { renderer: 'canvas' });
chart.setOption(option);
</script>
</body>
</html>
